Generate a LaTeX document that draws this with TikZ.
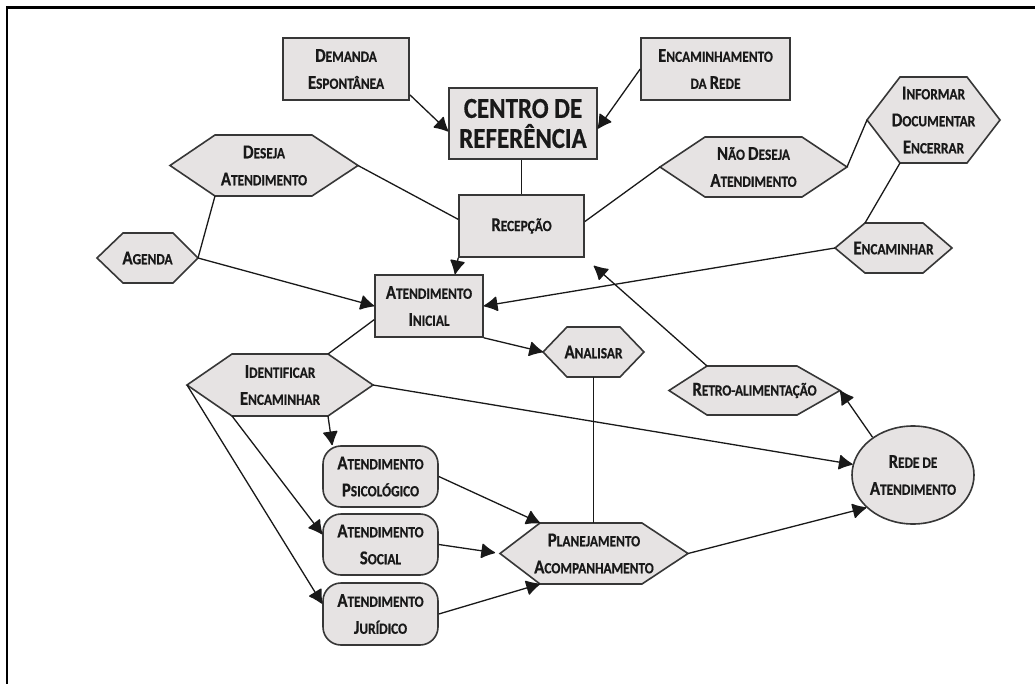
\documentclass[tikz,border=0pt]{standalone}
\usepackage{fontspec}
\usetikzlibrary{shapes.geometric,arrows.meta,calc}
\newfontfamily\lblfont{Carlito}[FakeStretch=0.86,FakeBold=0.5]
\definecolor{boxfill}{RGB}{230,227,227}
\definecolor{boxline}{RGB}{55,55,55}
\definecolor{txt}{RGB}{25,25,25}
\newcommand{\capl}[1]{{\fontsize{19.5}{27}\selectfont #1}}
\tikzset{
  lblfnt/.style={font=\lblfont\bfseries\fontsize{15.5}{27}\selectfont, text=txt, align=center},
  box/.style={lblfnt, draw=boxline, line width=1.6pt, fill=boxfill, inner sep=0pt},
  rbox/.style={box, rounded corners=18pt},
  hexst/.style={draw=boxline, line width=1.6pt, fill=boxfill},
  lbl/.style={lblfnt, inner sep=0pt},
  conn/.style={draw=black!90, line width=1.3pt},
  arr/.style={conn, -{Latex[length=15pt,width=16pt,round]}},
}
% name, cx, cy, half-width, half-height, inset left, inset right, text
\newcommand{\hexn}[8]{%
  \coordinate (#1-w)  at ({#2-#4},#3);
  \coordinate (#1-tl) at ({#2-#4+#6},{#3-#5});
  \coordinate (#1-tr) at ({#2+#4-#7},{#3-#5});
  \coordinate (#1-e)  at ({#2+#4},#3);
  \coordinate (#1-br) at ({#2+#4-#7},{#3+#5});
  \coordinate (#1-bl) at ({#2-#4+#6},{#3+#5});
  \draw[hexst] (#1-w) -- (#1-tl) -- (#1-tr) -- (#1-e) -- (#1-br) -- (#1-bl) -- cycle;
  \node[lbl] (#1) at (#2,#3) {#8};
}
\begin{document}
\begin{tikzpicture}[x=1pt,y=-1pt]
\fill[white] (0,0) rectangle (1035,684);
\useasboundingbox (0,0) rectangle (1035,684);
\draw[line width=2.4pt] (7,684) -- (7,7.5) -- (1035,7.5);

% rectangles
\node[box, minimum width=126pt, minimum height=62pt] (dem) at (346,69) {\capl{D}EMANDA\\\capl{E}SPONTÂNEA};
\node[box, minimum width=149pt, minimum height=62pt] (encr) at (715.5,69) {\capl{E}NCAMINHAMENTO\\DA \capl{R}EDE};
\node[box, minimum width=148pt, minimum height=71pt, font=\lblfont\bfseries\fontsize{29}{30}\selectfont] (cen) at (523,123.5) {CENTRO DE\\REFERÊNCIA};
\node[box, minimum width=125pt, minimum height=62pt] (rec) at (521.5,226) {\capl{R}ECEPÇÃO};
\node[box, minimum width=108pt, minimum height=62pt] (ai) at (429,306) {\capl{A}TENDIMENTO\\\capl{I}NICIAL};
\node[rbox, minimum width=115pt, minimum height=61pt] (psi) at (380.5,476.5) {\capl{A}TENDIMENTO\\\capl{P}SICOLÓGICO};
\node[rbox, minimum width=115pt, minimum height=61pt] (soc) at (380.5,544.5) {\capl{A}TENDIMENTO\\\capl{S}OCIAL};
\node[rbox, minimum width=115pt, minimum height=62pt] (jur) at (380.5,614) {\capl{A}TENDIMENTO\\\capl{J}URÍDICO};
\node[box, ellipse, minimum width=122pt, minimum height=98pt] (rede) at (913,475) {\capl{R}EDE DE\\\capl{A}TENDIMENTO};

% hexagons
\hexn{ds}{264}{165.5}{94}{30.5}{45}{46}{\capl{D}ESEJA\\\capl{A}TENDIMENTO}
\hexn{ag}{147.5}{258}{50.5}{25}{26}{25}{\capl{A}GENDA}
\hexn{nd}{753.5}{167}{93.5}{30}{45}{45}{\capl{N}ÃO \capl{D}ESEJA\\\capl{A}TENDIMENTO}
\hexn{inf}{933.5}{120}{66.5}{43}{33}{33}{\capl{I}NFORMAR\\\capl{D}OCUMENTAR\\\capl{E}NCERRAR}
\hexn{enc}{893.5}{248}{58.5}{25}{30}{29}{\capl{E}NCAMINHAR}
\hexn{ana}{593.5}{352}{50.5}{25}{24}{24}{\capl{A}NALISAR}
\hexn{idf}{280}{385}{93}{31}{45}{45}{\capl{I}DENTIFICAR\\\capl{E}NCAMINHAR}
\hexn{plan}{594}{553.5}{94}{30.5}{40}{46}{\capl{P}LANEJAMENTO\\\capl{A}COMPANHAMENTO}
\hexn{ret}{754.5}{390.5}{85.5}{24.5}{38}{43}{\capl{R}ETRO-ALIMENTAÇÃO}

% connectors
\draw[arr] (dem.-22) -- (cen.186);
\draw[arr] (encr.west) -- (cen.-4);
\draw[conn] (cen.south -| rec.north) -- (rec.north);
\draw[conn] (ds-e) -- (rec.174);
\draw[conn] (ds-bl) -- (ag-e);
\draw[arr] (ag-e) -- (ai.west);
\draw[arr] (rec.south west) -- ($(ai.north)+(26,0)$);
\draw[conn] (nd-w) -- (rec.4);
\draw[conn] (nd-e) -- (inf-w);
\draw[conn] (inf-bl) -- (enc-tl);
\draw[arr] (enc-w) -- (ai.east);
\draw[conn] (ai.194) -- (idf-tr);
\draw[arr] (ai.south east) -- (ana-w);
\draw[conn] (ana.south |- ana-bl) -- (ana.south |- plan-tl);
\draw[arr] (idf-e) -- (rede.170);
\draw[arr] (idf-br) -- ($(psi.north west)+(10,0)$);
\draw[arr] (idf-bl) -- (soc.170);
\draw[arr] (idf-w) -- (jur.170);
\draw[arr] (psi.east) -- (plan-tl);
\draw[arr, shorten >=5pt] (soc.east) -- (plan-w);
\draw[arr] (jur.east) -- (plan-bl);
\draw[arr] (plan-e) -- (rede.215);
\draw[arr] (rede.137) -- (ret-e);
\draw[arr, shorten >=12pt] (ret-tl) -- (rec.south east);
\end{tikzpicture}
\end{document}
